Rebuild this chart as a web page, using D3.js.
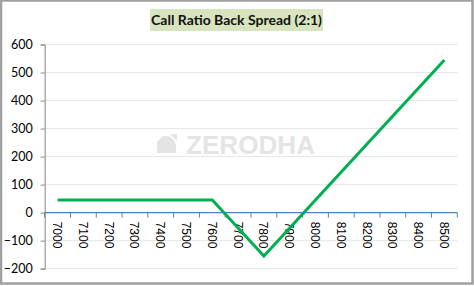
<!DOCTYPE html>
<html>
<head>
<meta charset="utf-8">
<script src="https://cdn.jsdelivr.net/npm/d3@7"></script>
<style>
  body { margin: 0; background: #fff; }
  svg { display: block; }
</style>
</head>
<body>
<svg width="474" height="286"></svg>
<script>
// strike prices on the x axis
const strikes = [7000, 7100, 7200, 7300, 7400, 7500, 7600, 7700, 7800, 7900, 8000, 8100, 8200, 8300, 8400, 8500];
// payoff at expiry
const payoff = [45, 45, 45, 45, 45, 45, 45, -55, -155, -55, 45, 145, 245, 345, 445, 545];
const yTicks = [-200, -100, 0, 100, 200, 300, 400, 500, 600];
const title = "Call Ratio Back Spread (2:1)";

const svg = d3.select("svg");
const plot = { left: 44.7, right: 457.3, top: 44.5, bottom: 268.7 };

// frame around the whole picture
svg.append("rect")
    .attr("x", 1).attr("y", 0.5)
    .attr("width", 471.5).attr("height", 283)
    .attr("fill", "none")
    .attr("stroke", "#a0a0a0")
    .attr("stroke-width", 2.5);

const x = d3.scaleBand()
    .domain(strikes)
    .range([plot.left, plot.right]);

const y = d3.scaleLinear()
    .domain([-200, 600])
    .range([plot.bottom, plot.top]);

// gridlines
svg.append("g")
    .selectAll("line")
    .data(yTicks)
    .join("line")
    .attr("x1", plot.left).attr("x2", plot.right)
    .attr("y1", d => y(d)).attr("y2", d => y(d))
    .attr("stroke", "#e6e6e6")
    .attr("stroke-width", 1);

// watermark
const wm = svg.append("g").attr("fill", "#e4e4e4");
wm.append("path")
    .attr("d", "M157,142 L163,136 L166,136 A10,10 0 0 1 176,146 L176,153 L157,153 Z");
wm.append("path")
    .attr("d", "M170,134 L177,134 L177,141 Z");
wm.append("text")
    .attr("x", 186).attr("y", 153.5)
    .attr("font-family", "Liberation Sans, Arial, sans-serif")
    .attr("font-weight", "bold")
    .attr("font-size", 26)
    .attr("textLength", 129)
    .attr("lengthAdjust", "spacingAndGlyphs")
    .text("ZERODHA");

// y axis
const yAxis = svg.append("g")
    .attr("transform", `translate(${plot.left},0)`)
    .call(d3.axisLeft(y).tickValues(yTicks).tickSize(4).tickPadding(8));
yAxis.select(".domain").attr("stroke", "#868686");
yAxis.selectAll(".tick line").attr("stroke", "#868686");
yAxis.selectAll("text")
    .attr("font-family", "Lato, sans-serif")
    .attr("font-size", 12.5)
    .attr("fill", "#000");

// x axis sits on zero, ticks between categories
const xAxis = svg.append("g")
    .attr("transform", `translate(0,${y(0)})`);
xAxis.append("line")
    .attr("x1", plot.left).attr("x2", plot.right)
    .attr("stroke", "#4f81bd").attr("stroke-width", 1.2);
xAxis.selectAll(".sep")
    .data(strikes.concat(["end"]))
    .join("line")
    .attr("class", "sep")
    .attr("x1", (d, i) => plot.left + i * x.bandwidth())
    .attr("x2", (d, i) => plot.left + i * x.bandwidth())
    .attr("y1", 0).attr("y2", 5)
    .attr("stroke", "#4f81bd");
xAxis.selectAll("text")
    .data(strikes)
    .join("text")
    .attr("transform", d => `translate(${x(d) + x.bandwidth() / 2 - 4.5},9) rotate(90)`)
    .attr("font-family", "Liberation Sans, Arial, sans-serif")
    .attr("font-size", 12)
    .attr("fill", "#000")
    .text(d => d);

// payoff line
const line = d3.line()
    .x((d, i) => x(strikes[i]) + x.bandwidth() / 2)
    .y(d => y(d));
svg.append("path")
    .attr("d", line(payoff))
    .attr("fill", "none")
    .attr("stroke", "#00b050")
    .attr("stroke-width", 3);

// title
svg.append("rect")
    .attr("x", 150).attr("y", 9)
    .attr("width", 173).attr("height", 22)
    .attr("fill", "#d7e4bd");
svg.append("text")
    .attr("x", 236.5).attr("y", 25)
    .attr("text-anchor", "middle")
    .attr("font-family", "Lato, sans-serif")
    .attr("font-weight", "bold")
    .attr("font-size", 14)
    .attr("fill", "#111")
    .text(title);
</script>
</body>
</html>
